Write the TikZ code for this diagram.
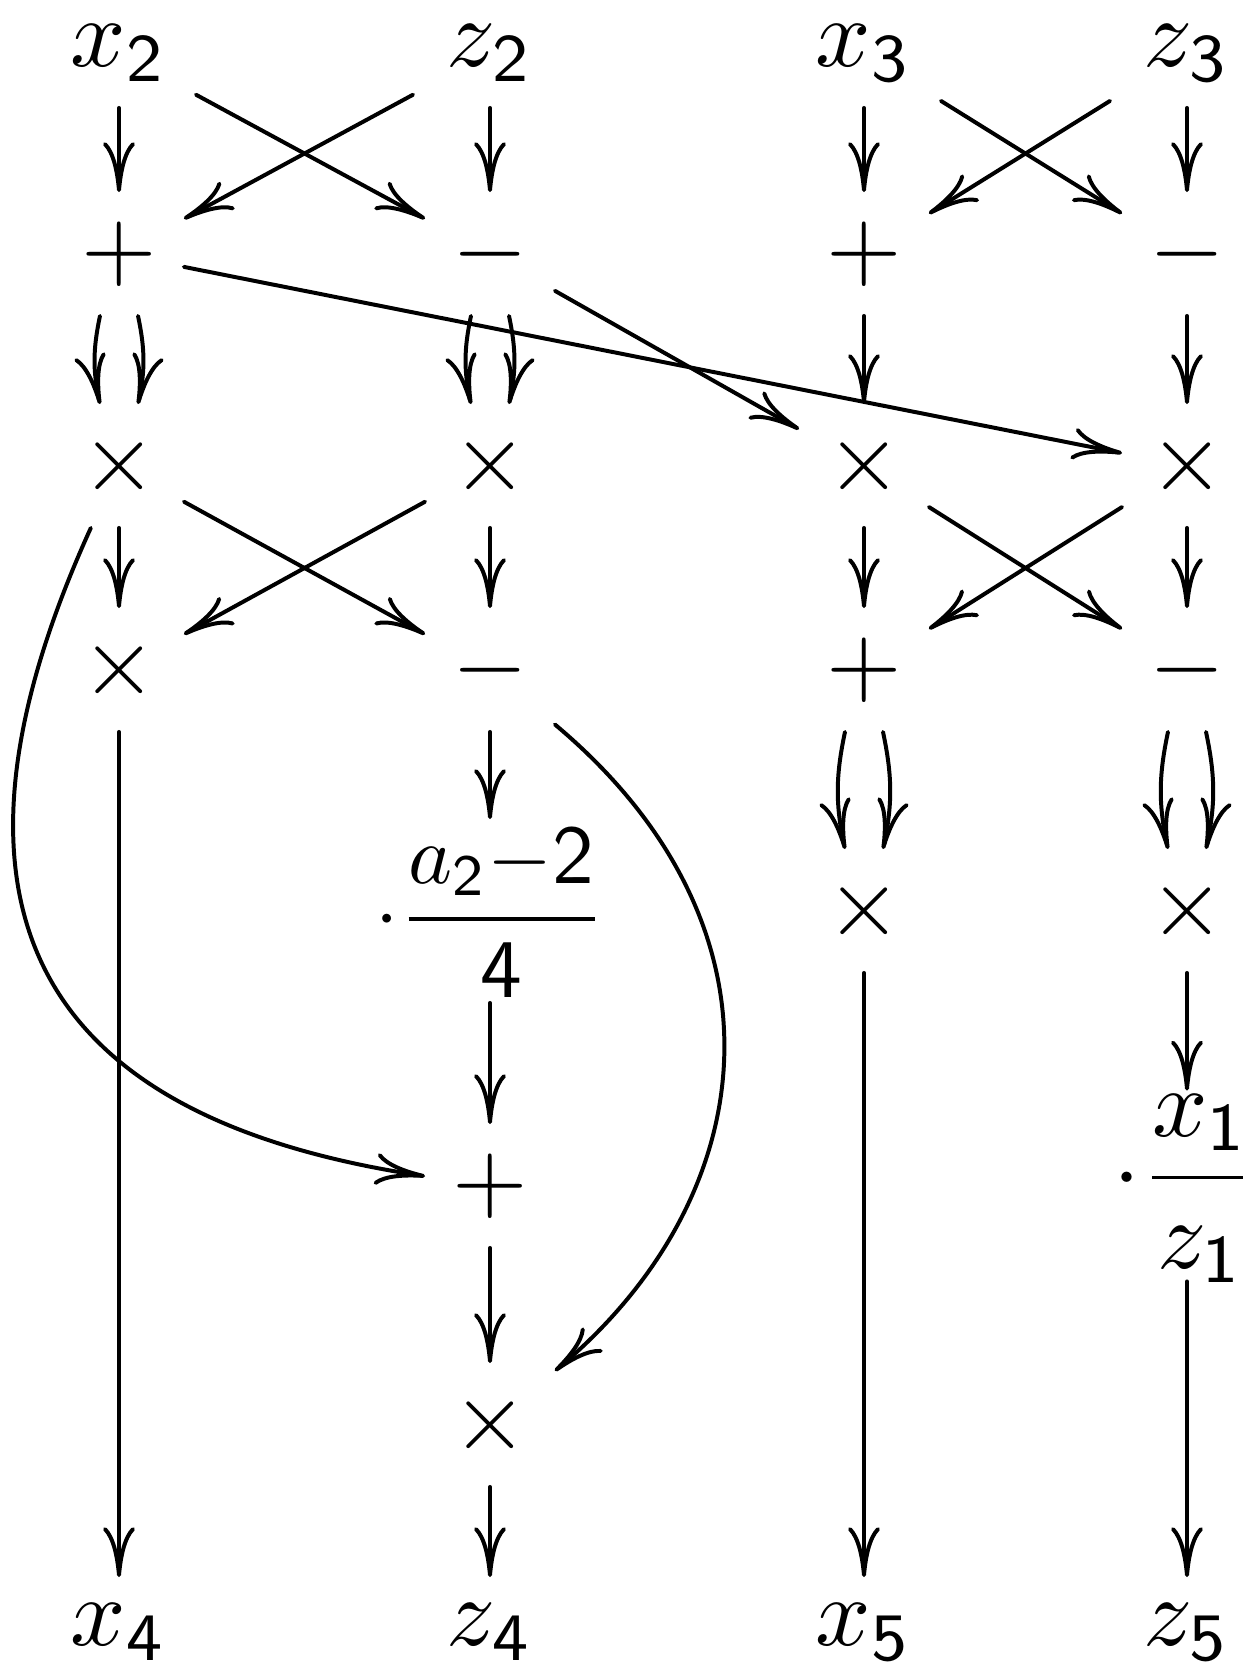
\documentclass[tikz,border=0pt]{standalone}
\usepackage{amsmath}
\usepackage{graphicx}
\usetikzlibrary{arrows.meta}
\begin{document}
\begin{tikzpicture}[x=0.1031pt,y=-0.1031pt,
  font=\fontsize{10}{12}\selectfont,
  >={Computer Modern Rightarrow[length=5.15pt,width=3.3pt]},
  ar/.style={->,line width=0.41pt,line cap=round},
  op/.style={inner sep=0pt,minimum width=12.99pt,minimum height=12.37pt},
  lab/.style={inner sep=0pt,minimum width=15.47pt,minimum height=10.93pt},
  dl/.style={xshift=-1.96pt},
  dr/.style={xshift=1.96pt},
]
\useasboundingbox (0,0) rectangle (1243,1662);
% top labels
\node[lab] (x2) at (119,53) {$x_{\mathsf 2}$};
\node[lab] (z2) at (490,53) {$z_{\mathsf 2}$};
\node[lab] (x3) at (864,53) {$x_{\mathsf 3}$};
\node[lab] (z3) at (1187,53) {$z_{\mathsf 3}$};
% row 1
\node[op] (p1) at (119,254) {$+$};
\node[op] (m1) at (490,254) {$-$};
\node[op] (p2) at (864,254) {$+$};
\node[op] (m2) at (1187,254) {$-$};
% row 2
\node[op] (t11) at (119,466) {$\times$};
\node[op] (t12) at (490,466) {$\times$};
\node[op] (t13) at (864,466) {$\times$};
\node[op] (t14) at (1187,466) {$\times$};
% row 3
\node[op] (t31) at (119,670) {$\times$};
\node[op] (m32) at (490,670) {$-$};
\node[op] (p33) at (864,670) {$+$};
\node[op] (m34) at (1187,670) {$-$};
% row 4
\node[inner sep=0pt,text height=12.25pt,text depth=6.31pt] (f42) at (490,911)
  {\scalebox{0.86}{$\displaystyle\cdot\frac{a_{\mathsf 2}{-}\mathsf 2}{\mathsf 4}$}};
\node[op] (t43) at (864,911) {$\times$};
\node[op] (t44) at (1187,911) {$\times$};
% row 5
\node[op] (p52) at (490,1186) {$+$};
\node[inner sep=0pt,text height=11.26pt,text depth=8.02pt] (f54) at (1187,1186)
  {$\displaystyle\cdot\frac{x_{\mathsf 1}}{z_{\mathsf 1}}$};
% row 6
\node[op] (t62) at (490,1425) {$\times$};
% bottom labels
\node[lab] (x4) at (119,1632) {$x_{\mathsf 4}$};
\node[lab] (z4) at (490,1632) {$z_{\mathsf 4}$};
\node[lab] (x5) at (864,1632) {$x_{\mathsf 5}$};
\node[lab] (z5) at (1187,1632) {$z_{\mathsf 5}$};

% row 0 -> row 1
\draw[ar] (x2) -- (p1);
\draw[ar] (z2) -- (m1);
\draw[ar] (x2) -- (m1);
\draw[ar] (z2) -- (p1);
\draw[ar] (x3) -- (p2);
\draw[ar] (z3) -- (m2);
\draw[ar] (x3) -- (m2);
\draw[ar] (z3) -- (p2);
% row 1 -> row 2
\draw[ar] ([dl]p1.south) to[bend right=12] ([dl]t11.north);
\draw[ar] ([dr]p1.south) to[bend left=12] ([dr]t11.north);
\draw[ar] ([dl]m1.south) to[bend right=12] ([dl]t12.north);
\draw[ar] ([dr]m1.south) to[bend left=12] ([dr]t12.north);
\draw[ar] (p2) -- (t13);
\draw[ar] (m2) -- (t14);
\draw[ar] (p1) -- (t14);
\draw[ar] (m1) -- (t13);
% row 2 -> row 3
\draw[ar] (t11) -- (t31);
\draw[ar] (t11) -- (m32);
\draw[ar] (t12) -- (t31);
\draw[ar] (t12) -- (m32);
\draw[ar] (t13) -- (p33);
\draw[ar] (t13) -- (m34);
\draw[ar] (t14) -- (p33);
\draw[ar] (t14) -- (m34);
% row 3 -> row 4
\draw[ar] (m32) -- (f42);
\draw[ar] ([dl]p33.south) to[bend right=12] ([dl]t43.north);
\draw[ar] ([dr]p33.south) to[bend left=12] ([dr]t43.north);
\draw[ar] ([dl]m34.south) to[bend right=12] ([dl]t44.north);
\draw[ar] ([dr]m34.south) to[bend left=12] ([dr]t44.north);
% lower part
\draw[ar] (f42) -- (p52);
\draw[ar] (p52) -- (t62);
\draw[ar] (t62) -- (z4);
\draw[ar] (t44) -- (f54);
\draw[ar] (f54) -- (z5);
\draw[ar] (t31) -- (x4);
\draw[ar] (t43) -- (x5);
% curves
\draw[ar] (t11) .. controls (-115,980) and (120,1130) .. (p52);
\draw[ar] (m32) .. controls (800,930) and (760,1200) .. (t62);
\end{tikzpicture}
\end{document}
